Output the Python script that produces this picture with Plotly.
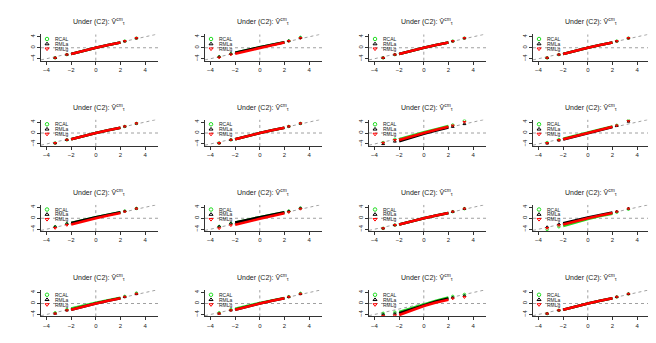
import plotly.graph_objects as go

# cuantiles teoricos (eje x) y cuantiles muestrales
theo_q = [-3.3, -2.35, -2.0, -1.0, 0.0, 1.0, 2.0, 2.35, 3.3]

base = [-3.7, -2.5, -2.3, -1.1, 0.0, 1.0, 1.9, 2.4, 3.5]

rcal_y = [
    base,
    [-3.3, -2.2, -1.8, -0.7, 0.2, 1.1, 2.0, 2.5, 3.8],
    base, base,
    base, base,
    [-3.5, -2.3, -2.3, -0.9, 0.3, 1.4, 2.6, 2.9, 4.5],
    [-3.5, -2.4, -2.1, -0.9, 0.2, 1.3, 2.4, 2.8, 4.6],
    [-3.1, -2.0, -1.7, -0.6, 0.4, 1.3, 2.2, 2.6, 3.6],
    [-3.0, -1.9, -1.6, -0.5, 0.4, 1.3, 2.2, 2.6, 3.7],
    base,
    [-4.1, -3.1, -2.8, -1.5, -0.3, 0.8, 1.7, 2.2, 3.3],
    [-3.4, -2.2, -1.8, -0.7, 0.3, 1.2, 2.1, 2.6, 3.8],
    [-3.4, -2.2, -1.9, -0.8, 0.2, 1.1, 2.0, 2.5, 3.7],
    [-3.6, -3.2, -3.1, -1.7, -0.3, 1.0, 2.2, 2.6, 3.3],
    base,
]

rmla_y = [
    base,
    [-3.3, -2.2, -1.8, -0.7, 0.2, 1.1, 2.0, 2.5, 3.6],
    base, base,
    base, base,
    [-4.0, -3.1, -3.0, -1.6, -0.3, 0.9, 2.0, 2.3, 3.3],
    [-3.8, -2.7, -2.4, -1.2, 0.0, 1.1, 2.2, 2.6, 4.2],
    [-3.1, -2.0, -1.7, -0.6, 0.4, 1.3, 2.2, 2.6, 3.6],
    [-3.0, -1.9, -1.6, -0.5, 0.4, 1.3, 2.2, 2.6, 3.7],
    base,
    [-3.2, -2.1, -1.8, -0.7, 0.3, 1.2, 2.1, 2.5, 3.6],
    base, base,
    [-4.0, -3.7, -3.6, -2.1, -0.6, 0.7, 1.8, 2.2, 2.8],
    base,
]

rmlg_y = [
    base,
    [-3.6, -2.5, -2.2, -1.1, -0.1, 0.9, 1.9, 2.4, 3.5],
    base, base,
    base, base,
    [-3.6, -2.6, -2.6, -1.2, 0.0, 1.2, 2.3, 2.7, 4.0],
    [-3.7, -2.6, -2.3, -1.1, 0.1, 1.2, 2.3, 2.7, 4.4],
    [-3.6, -2.5, -2.3, -1.1, 0.0, 1.0, 1.9, 2.4, 3.5],
    [-3.7, -2.6, -2.4, -1.2, -0.2, 0.8, 1.8, 2.2, 3.4],
    base,
    [-3.6, -2.6, -2.3, -1.1, 0.0, 1.0, 1.9, 2.4, 3.5],
    base, base,
    [-4.6, -4.4, -4.2, -2.5, -0.9, 0.4, 1.4, 1.8, 2.3],
    base,
]

series_names = ["RCAL", "RMLa", "RMLg"]
series_colors = ["#22dd22", "black", "red"]
series_symbols = ["circle-open", "triangle-up-open", "triangle-down-open"]
titulo = "Under (C2): V\u0302<sup>cm</sup><sub>\u03c4</sub>"

W, H = 656, 343
PW, PH = 164, 85.75
XR = [-4.45, 5.05]
YR = [-4.73, 4.9]

fig = go.Figure()
annotations = []

for k in range(16):
    r, c = divmod(k, 4)
    n = "" if k == 0 else str(k + 1)
    xa, ya = "x" + n, "y" + n
    x0 = (c * PW + 33) / W
    x1 = (c * PW + 150) / W
    y1 = 1 - (r * PH + 25.5) / H
    y0 = 1 - (r * PH + 52) / H

    fig.layout["xaxis" + n] = dict(
        domain=[x0, x1], range=XR, anchor=ya, tickvals=[-4, -2, 0, 2, 4],
        ticktext=["\u22124", "\u22122", "0", "2", "4"],
        ticks="outside", ticklen=3, tickwidth=1, tickcolor="#333",
        showline=True, linecolor="#333", linewidth=1,
        showgrid=False, zeroline=False, tickfont=dict(size=6, color="#222"))
    fig.layout["yaxis" + n] = dict(
        domain=[y0, y1], range=YR, anchor=xa, tickvals=[-4, 0, 4],
        ticktext=["\u22124", "0", "4"], tickangle=-90,
        ticks="outside", ticklen=3, tickwidth=1, tickcolor="#333",
        showline=True, linecolor="#333", linewidth=1,
        showgrid=False, zeroline=False, tickfont=dict(size=6, color="#222"))

    # lineas de referencia punteadas
    ref = dict(color="#888", width=0.8, dash="dot")
    fig.add_trace(go.Scatter(x=XR, y=[0, 0], mode="lines", line=ref,
                             xaxis=xa, yaxis=ya, hoverinfo="skip"))
    fig.add_trace(go.Scatter(x=[0, 0], y=YR, mode="lines", line=ref,
                             xaxis=xa, yaxis=ya, hoverinfo="skip"))
    fig.add_trace(go.Scatter(x=XR, y=XR, mode="lines", line=ref,
                             xaxis=xa, yaxis=ya, hoverinfo="skip"))

    for s, ys in enumerate([rcal_y[k], rmla_y[k], rmlg_y[k]]):
        col = series_colors[s]
        # banda densa central
        fig.add_trace(go.Scatter(
            x=theo_q[2:7], y=ys[2:7], mode="lines",
            line=dict(color=col, width=2.6), xaxis=xa, yaxis=ya))
        # puntos extremos
        fig.add_trace(go.Scatter(
            x=theo_q[:2] + theo_q[7:], y=ys[:2] + ys[7:], mode="markers",
            marker=dict(symbol=series_symbols[s], size=2.5, color=col,
                        line=dict(color=col, width=1)),
            xaxis=xa, yaxis=ya))

    # leyenda dentro del panel
    ly = [3.2, 1.4, -0.4]
    fig.add_trace(go.Scatter(
        x=[-3.96] * 3, y=ly, mode="markers",
        marker=dict(symbol=series_symbols, size=3.5, color=series_colors,
                    line=dict(color=series_colors, width=1)),
        xaxis=xa, yaxis=ya))
    for s in range(3):
        annotations.append(dict(
            x=-3.5, y=ly[s], xref=xa, yref=ya, text=series_names[s],
            showarrow=False, xanchor="left", yanchor="middle",
            font=dict(size=5, color="#222")))

    annotations.append(dict(
        x=(c * PW + 91) / W, y=1 - (r * PH + 13) / H, xref="paper", yref="paper",
        text=titulo, showarrow=False, xanchor="center", yanchor="middle",
        font=dict(size=7, color="#222")))

fig.update_layout(
    width=W, height=H, margin=dict(l=0, r=0, t=0, b=0),
    paper_bgcolor="white", plot_bgcolor="white", showlegend=False,
    font=dict(family="Liberation Sans, Arial, sans-serif"),
    annotations=annotations)

fig.write_html("out.html")
